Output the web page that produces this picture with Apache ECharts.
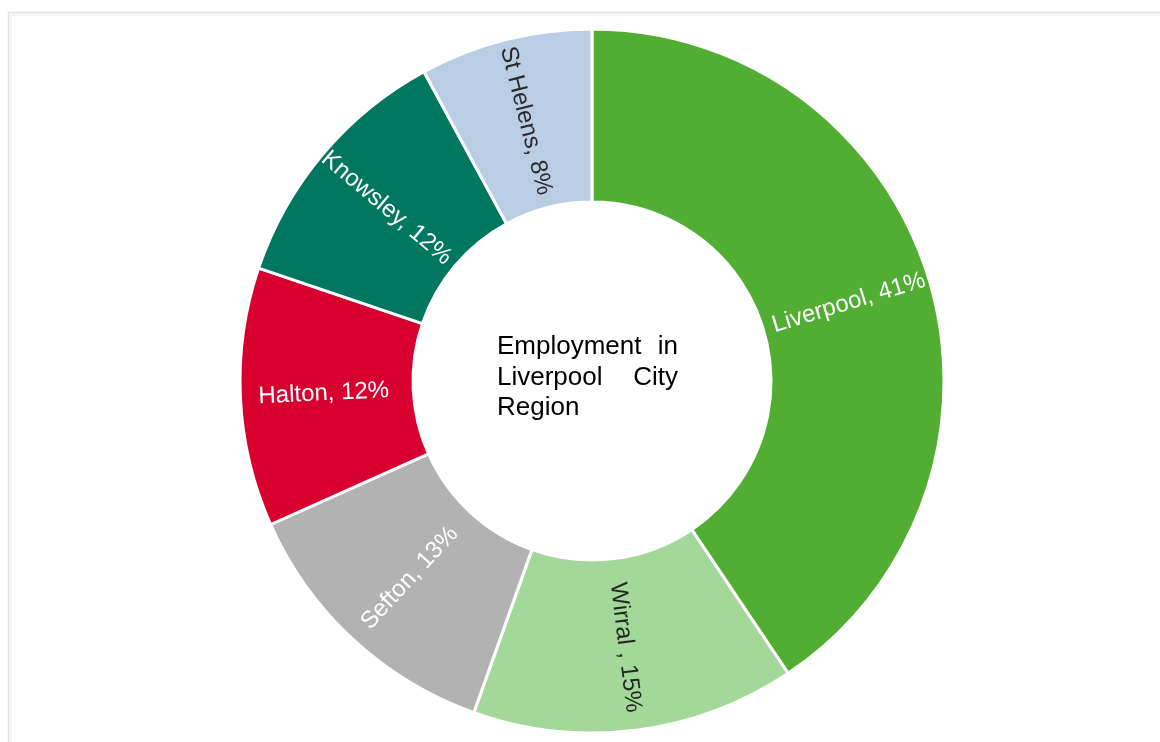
<!DOCTYPE html>
<html>
<head>
<meta charset="utf-8">
<title>Employment in Liverpool City Region</title>
<script src="https://cdn.jsdelivr.net/npm/echarts@6/dist/echarts.min.js"></script>
<style>
  html, body { margin: 0; padding: 0; background: #ffffff; }
  #chart { width: 1160px; height: 742px; }
</style>
</head>
<body>
<div id="chart"></div>
<script>
// Share of employment by local authority (%)
const areas = ['Liverpool', 'Wirral ', 'Sefton', 'Halton', 'Knowsley', 'St Helens'];
const shares = [41, 15, 13, 12, 12, 8];
const sliceColors = ['#52ae32', '#a4d89a', '#b2b2b2', '#d7002f', '#00775e', '#b9cde5'];
const labelColors = ['#ffffff', '#1e2a1e', '#ffffff', '#ffffff', '#ffffff', '#2a2a2a'];

// Centre caption, one entry per justified line: [left word, right word]
const captionLines = [['Employment', 'in'], ['Liverpool', 'City'], ['Region', '']];

const FONT = '"Liberation Sans", Arial, sans-serif';
const chart = echarts.init(document.getElementById('chart'), null, { renderer: 'canvas' });

const pieData = areas.map((name, i) => ({
  name: name,
  value: shares[i],
  itemStyle: { color: sliceColors[i] },
  label: { color: labelColors[i] }
}));

// Caption text laid out as justified lines inside the ring's hole
const capLeft = 497, capRight = 678, capTop = 347, capStep = 30.5;
const captionGraphics = [];
captionLines.forEach((pair, row) => {
  const y = capTop + row * capStep;
  captionGraphics.push({
    type: 'text', x: capLeft, y: y, silent: true,
    style: { text: pair[0], fill: '#000000', font: '26px ' + FONT, textAlign: 'left', textVerticalAlign: 'middle' }
  });
  if (pair[1]) {
    captionGraphics.push({
      type: 'text', x: capRight, y: y, silent: true,
      style: { text: pair[1], fill: '#000000', font: '26px ' + FONT, textAlign: 'right', textVerticalAlign: 'middle' }
    });
  }
});

chart.setOption({
  backgroundColor: '#ffffff',
  animation: false,
  graphic: [
    {
      type: 'rect', silent: true, z: -10,
      shape: { x: 8.5, y: 12.5, width: 1200, height: 800 },
      style: { fill: 'none', stroke: '#e2e2e2', lineWidth: 1.5 }
    },
    {
      type: 'rect', silent: true, z: -10,
      shape: { x: 10.5, y: 14.5, width: 1200, height: 800 },
      style: { fill: 'none', stroke: '#f4f4f4', lineWidth: 3 }
    }
  ].concat(captionGraphics),
  series: [{
    type: 'pie',
    center: [592, 381],
    radius: [179, 352],
    startAngle: 90,
    clockwise: true,
    avoidLabelOverlap: false,
    silent: true,
    itemStyle: { borderColor: '#ffffff', borderWidth: 3 },
    label: {
      show: true,
      position: 'inside',
      rotate: 'radial',
      formatter: '{b}, {c}%',
      fontFamily: FONT,
      fontSize: 24
    },
    labelLine: { show: false },
    data: pieData
  }]
});
</script>
</body>
</html>
